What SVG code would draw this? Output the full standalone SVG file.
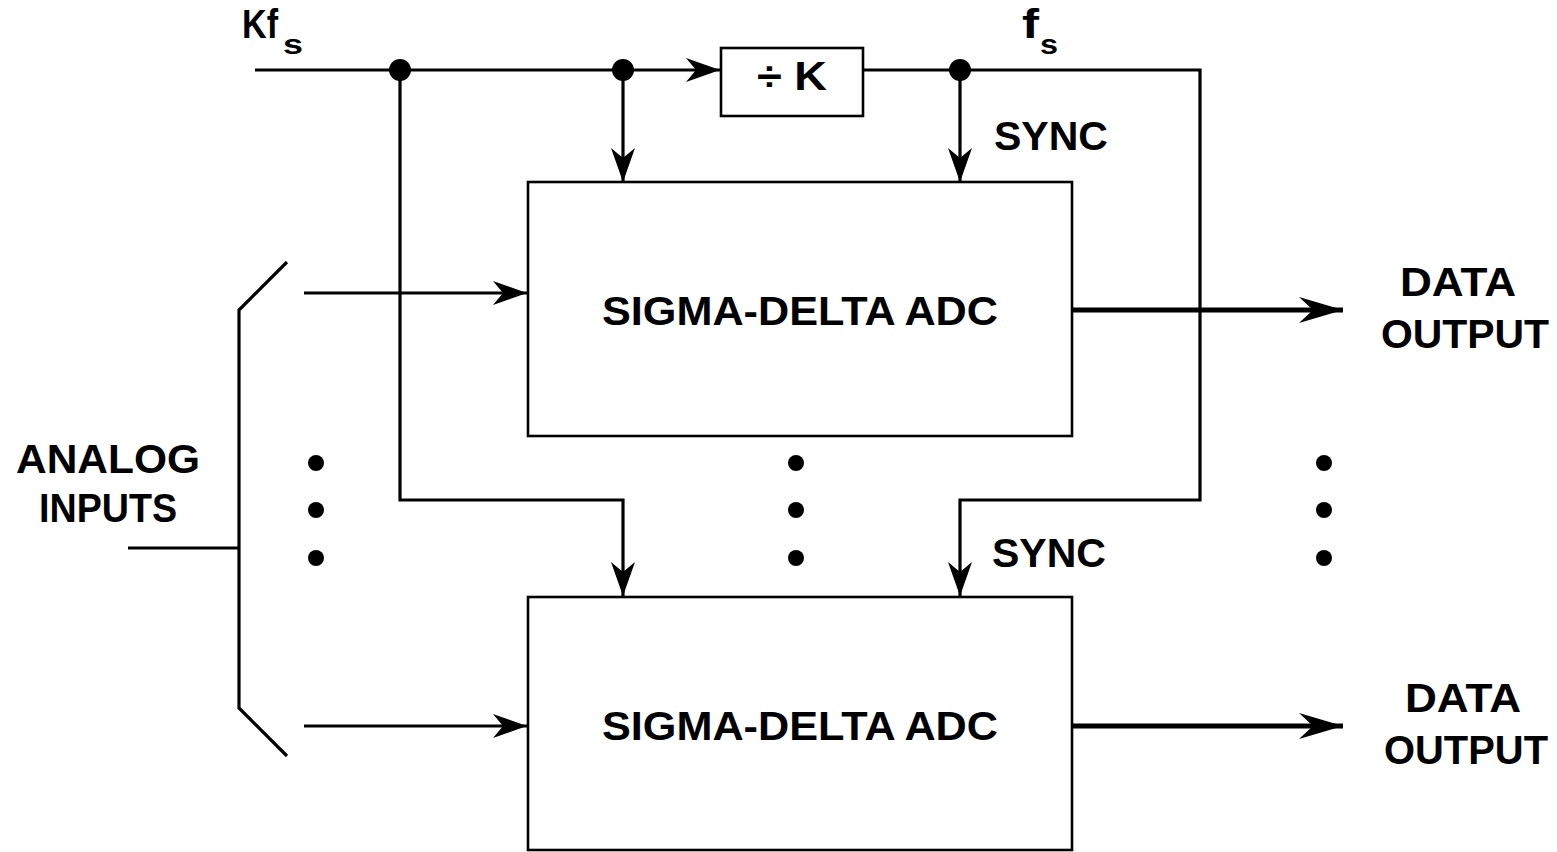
<svg xmlns="http://www.w3.org/2000/svg" width="1557" height="852" viewBox="0 0 1557 852">
  <style>
    .ln { fill: none; stroke: #000; stroke-width: 3.2; }
    .box { fill: #fff; stroke: #000; stroke-width: 2.6; }
    .bus { fill: none; stroke: #000; stroke-width: 5; }
    .t { font-family: "Liberation Sans", Arial, sans-serif; font-weight: bold; fill: #000; }
    .big { font-size: 41px; }
    .sub { font-size: 28px; }
  </style>
  <defs>
    <marker id="arr" viewBox="-36 -13 38 26" refX="0" refY="0" markerWidth="38" markerHeight="26" markerUnits="userSpaceOnUse" orient="auto">
      <path d="M0,0 L-34,-12 L-24,0 L-34,12 Z" fill="#000"/>
    </marker>
    <marker id="arrBig" viewBox="-46 -14 48 28" refX="0" refY="0" markerWidth="48" markerHeight="28" markerUnits="userSpaceOnUse" orient="auto">
      <path d="M0,0 L-44,-13 L-30,0 L-44,13 Z" fill="#000"/>
    </marker>
  </defs>
  <rect width="1557" height="852" fill="#fff"/>

  <g id="connectors">
    <!-- clock input Kfs to the divider -->
    <line class="ln" x1="255" y1="70" x2="720" y2="70" marker-end="url(#arr)"/>
    <!-- fs from the divider to the right-hand return -->
    <polyline class="ln" points="863,70 1200,70 1200,500 960,500 960,596" marker-end="url(#arr)"/>
    <!-- Kfs to upper ADC -->
    <line class="ln" x1="623" y1="70" x2="623" y2="182" marker-end="url(#arr)"/>
    <!-- SYNC to upper ADC -->
    <line class="ln" x1="960" y1="70" x2="960" y2="182" marker-end="url(#arr)"/>
    <!-- Kfs to lower ADC -->
    <polyline class="ln" points="400,70 400,500 623,500 623,596" marker-end="url(#arr)"/>
    <!-- analog input switch -->
    <polyline class="ln" points="287,262 239,310 239,708 287,756"/>
    <line class="ln" x1="128" y1="548" x2="239" y2="548"/>
    <line class="ln" x1="304" y1="293" x2="527" y2="293" marker-end="url(#arr)"/>
    <line class="ln" x1="304" y1="726" x2="527" y2="726" marker-end="url(#arr)"/>
    <!-- data outputs -->
    <line class="bus" x1="1072" y1="310" x2="1343" y2="310" marker-end="url(#arrBig)"/>
    <line class="bus" x1="1072" y1="726" x2="1343" y2="726" marker-end="url(#arrBig)"/>
    <!-- junction dots -->
    <circle cx="400" cy="70" r="11" fill="#000"/>
    <circle cx="623" cy="70" r="11" fill="#000"/>
    <circle cx="960" cy="70" r="11" fill="#000"/>
  </g>

  <g id="divider">
    <rect class="box" x="721" y="48" width="142" height="68"/>
    <text class="t big" x="757" y="90" textLength="70" lengthAdjust="spacingAndGlyphs">÷ K</text>
  </g>

  <g id="adc1">
    <rect class="box" x="528" y="182" width="544" height="254"/>
    <text class="t big" x="602" y="325" textLength="396" lengthAdjust="spacingAndGlyphs">SIGMA-DELTA ADC</text>
  </g>

  <g id="adc2">
    <rect class="box" x="528" y="597" width="544" height="253"/>
    <text class="t big" x="602" y="740" textLength="396" lengthAdjust="spacingAndGlyphs">SIGMA-DELTA ADC</text>
  </g>

  <g id="labels">
    <text class="t big" x="242" y="38" textLength="36" lengthAdjust="spacingAndGlyphs">Kf</text>
    <text class="t sub" x="283" y="54" textLength="20" lengthAdjust="spacingAndGlyphs">s</text>
    <text class="t big" x="1022" y="38" textLength="17" lengthAdjust="spacingAndGlyphs">f</text>
    <text class="t sub" x="1040" y="54" textLength="18" lengthAdjust="spacingAndGlyphs">s</text>
    <text class="t big" x="994" y="150" textLength="114" lengthAdjust="spacingAndGlyphs">SYNC</text>
    <text class="t big" x="992" y="567" textLength="114" lengthAdjust="spacingAndGlyphs">SYNC</text>
    <text class="t big" x="1400" y="296" textLength="116" lengthAdjust="spacingAndGlyphs">DATA</text>
    <text class="t big" x="1381" y="348" textLength="168" lengthAdjust="spacingAndGlyphs">OUTPUT</text>
    <text class="t big" x="1405" y="712" textLength="116" lengthAdjust="spacingAndGlyphs">DATA</text>
    <text class="t big" x="1384" y="764" textLength="164" lengthAdjust="spacingAndGlyphs">OUTPUT</text>
    <text class="t big" x="16" y="473" textLength="184" lengthAdjust="spacingAndGlyphs">ANALOG</text>
    <text class="t big" x="39" y="522" textLength="138" lengthAdjust="spacingAndGlyphs">INPUTS</text>
  </g>

  <g id="ellipsis">
    <circle cx="316" cy="463" r="8" fill="#000"/>
    <circle cx="316" cy="510" r="8" fill="#000"/>
    <circle cx="316" cy="558" r="8" fill="#000"/>
    <circle cx="796" cy="463" r="8" fill="#000"/>
    <circle cx="796" cy="510" r="8" fill="#000"/>
    <circle cx="796" cy="558" r="8" fill="#000"/>
    <circle cx="1324" cy="463" r="8" fill="#000"/>
    <circle cx="1324" cy="510" r="8" fill="#000"/>
    <circle cx="1324" cy="558" r="8" fill="#000"/>
  </g>
</svg>
